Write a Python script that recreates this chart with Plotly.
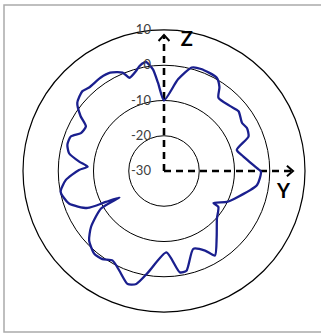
import plotly.graph_objects as go

# radiation pattern in the Y-Z plane (dB, degrees)
theta = [90, 81.3, 75, 70, 60.5, 56.5, 53.4, 44.4, 38.7, 31.6, 27.4, 22.2, 16.2, 10.3,
         1.7, -0.4, -8.6, -21.2, -26.2, -32.9, -33.5, -42, -51.5, -58.9, -62.7, -69.4,
         -77.3, -81.1, -88.3, -99, -103.8, -107.8, -114.1, -119.8, -125, -130.1, -137.1,
         -142.5, -149.2, -149.3, -152, -154.2, -161.1, -168.6, -174.7, -180.7, -183.2,
         -186.3, -190.6, -195.2, -200.3, -204.5, -209.7, -213.3, -218.2, -224.4, -228.1,
         -235.7, -241.3, -247.2, -249.7, -254.5, -256.9, -259.8, -260.8, -263.8, -266.1, -270]
gain = [-10, -3.7, 0.4, 0.8, 0.4, -1.5, -4.1, -3.7, -2.9, -4.0, -3.5, -4.1, -8.5, -7.1,
        -3.6, -2.5, -3.3, -8.4, -10.1, -13.3, -11.5, -9.8, -6.0, -2.0, -4.6, -6.4,
        -1.0, -0.9, -6.9, -0.8, 3.0, 3.7, 1.0, -0.7, 0.5, 0.7, -1.0,
        -3.9, -9.2, -15.3, -11.3, -5.9, -1.5, -0.1, -2.0, -5.9, -8.3,
        -5.8, -2.6, -1.6, -1.8, -4.1, -4.5, -1.7, 1.3, 2.4, 1.8,
        2.0, 1.8, 0.3, -1.8, -0.5, 0.6, 1.3, 1.3, -1.0, -4.9, -10]

ring_vals = [-30, -20, -10, 0, 10]
ring_text = ["-30", "-20", "-10", "0", "10"]

# axis arrows (tip radius in dB, direction in degrees) and their labels
arrow_tip = {"Z": (8.6, 90), "Y": (6.6, 0)}
axis_label_r = [7.4, 4.5]
axis_label_theta = [80, -10.5]
axis_label_text = ["Z", "Y"]

fig = go.Figure()

for name, (rt, th) in arrow_tip.items():
    fig.add_trace(go.Scatterpolar(r=[-30, rt], theta=[th, th], mode="lines",
                                  line=dict(color="black", width=2.6, dash="7px,5px"),
                                  hoverinfo="skip"))
    fig.add_trace(go.Scatterpolar(r=[rt - 1.7, rt, rt - 1.7], theta=[th + 2.4, th, th - 2.4],
                                  mode="lines", line=dict(color="black", width=2),
                                  hoverinfo="skip"))

fig.add_trace(go.Scatterpolar(r=gain, theta=theta, mode="lines",
                              line=dict(color="#1a1f8e", width=2.3, shape="spline", smoothing=0.6)))

fig.add_trace(go.Scatterpolar(r=axis_label_r, theta=axis_label_theta, mode="text",
                              text=axis_label_text,
                              textfont=dict(family="Lato", size=20, color="black", weight="bold")))

# grey frame round the picture (left, top, bottom edges visible), in pixels
W, H = 321, 335
ml, mr, mt, mb = 23, 16, 30, 23
pw, ph = W - ml - mr, H - mt - mb
fx0, fx1, fy0, fy1 = 4, 360, 5, 332

fig.add_shape(type="rect", xref="paper", yref="paper",
              x0=(fx0 - ml) / pw, x1=(fx1 - ml) / pw,
              y0=(H - mb - fy1) / ph, y1=(H - mb - fy0) / ph,
              line=dict(color="#ababab", width=1.5))

fig.update_layout(
    width=W, height=H,
    margin=dict(l=ml, r=mr, t=mt, b=mb),
    paper_bgcolor="white",
    showlegend=False,
    polar=dict(
        bgcolor="white",
        radialaxis=dict(range=[-30, 10], tickvals=ring_vals, ticktext=ring_text,
                        angle=90, tickangle=90, side="counterclockwise",
                        showline=False, gridcolor="black", gridwidth=1.2,
                        ticks="outside", ticklen=8, tickcolor="rgba(0,0,0,0)",
                        tickfont=dict(family="Lato", size=13, color="#404040")),
        angularaxis=dict(showline=True, linecolor="black", linewidth=1.2,
                         showgrid=False, showticklabels=False, ticks=""),
    ),
)

fig.write_html("out.html", config={"displayModeBar": False},
               post_script="document.body.style.margin='0';")
